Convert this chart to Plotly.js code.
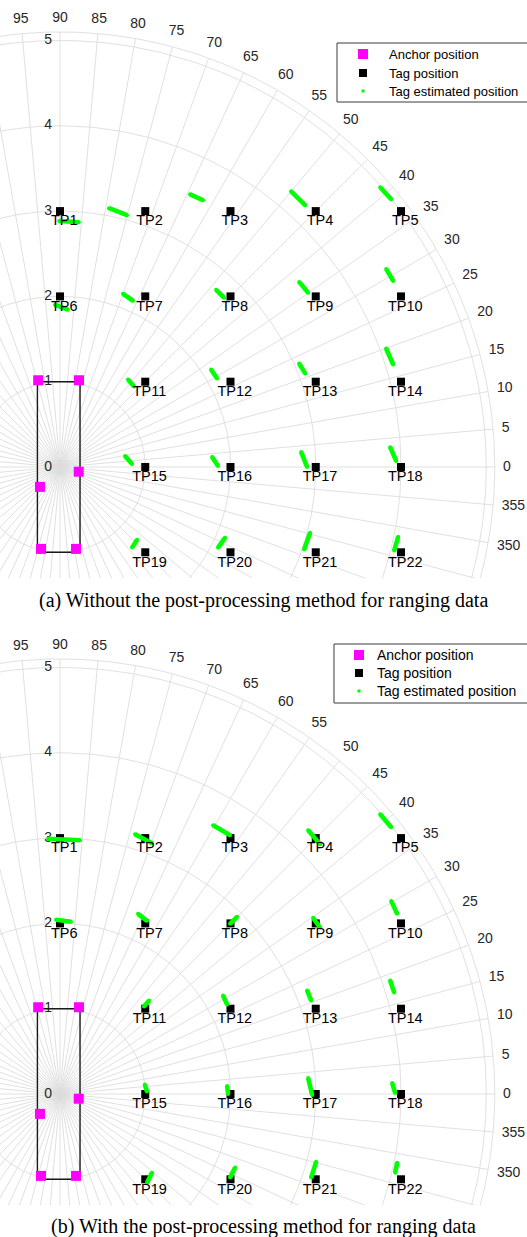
<!DOCTYPE html>
<html>
<head>
<meta charset="utf-8">
<script src="https://cdn.plot.ly/plotly-3.0.1.min.js"></script>
<style>html,body{margin:0;padding:0;background:#fff;}#chart{width:527px;height:1237px;}</style>
</head>
<body>
<div id="chart"></div>
<script>
// ---------- data ----------
const ANGLE_TICKS = [0,5,10,15,20,25,30,35,40,45,50,55,60,65,70,75,80,85,90,95,100,105,110,115,120,125,130,135,140,145,150,155,160,165,170,175,180,185,190,195,200,205,210,215,220,225,230,235,240,245,250,255,260,265,270,275,280,285,290,295,300,305,310,315,320,325,330,335,340,345,350,355];
const ANGLE_LABELS = [345,350,355,0,5,10,15,20,25,30,35,40,45,50,55,60,65,70,75,80,85,90,95];
const RADIAL_TICKS = [0,1,2,3,4,5];
const R_MAX = 5.1;

const TAG_NAMES = ['TP1','TP2','TP3','TP4','TP5','TP6','TP7','TP8','TP9','TP10','TP11','TP12','TP13','TP14','TP15','TP16','TP17','TP18','TP19','TP20','TP21','TP22'];
const TAG_X = [0,1,2,3,4, 0,1,2,3,4, 1,2,3,4, 1,2,3,4, 1,2,3,4];
const TAG_Y = [3,3,3,3,3, 2,2,2,2,2, 1,1,1,1, 0,0,0,0, -1,-1,-1,-1];

const ANCHOR_X = [-0.256, 0.223, 0.22, -0.235, -0.223, 0.188];
const ANCHOR_Y = [1.017, 1.017, -0.055, -0.233, -0.96, -0.96];

const FRAME_X = [-0.265, 0.235, 0.235, -0.265, -0.265];
const FRAME_Y = [1.0, 1.0, -1.0, -1.0, 1.0];

const LEGEND_LABELS = ['Anchor position', 'Tag position', 'Tag estimated position'];

// (a) estimated position clouds: start / end of each elongated cloud
const EST_A_X0 = [-0.01, 0.575, 1.526, 2.711, 3.756, -0.059, 0.739, 1.831, 2.805, 3.826, 0.798, 1.772, 2.805, 3.826, 0.763, 1.784, 2.829, 3.873, 0.904, 1.937, 2.934, 3.967];
const EST_A_Y0 = [2.885, 3.034, 3.197, 3.232, 3.279, 1.902, 2.030, 2.077, 2.170, 2.322, 1.027, 1.144, 1.214, 1.389, 0.128, 0.117, 0.175, 0.233, -0.852, -0.828, -0.770, -0.817];
const EST_A_X1 = [0.22, 0.786, 1.678, 2.876, 3.885, 0.094, 0.857, 1.925, 2.911, 3.908, 0.869, 1.843, 2.876, 3.908, 0.845, 1.854, 2.899, 3.944, 0.845, 1.854, 2.864, 3.920];
const EST_A_Y1 = [2.870, 2.952, 3.127, 3.069, 3.139, 1.844, 1.949, 1.984, 2.042, 2.182, 0.945, 1.038, 1.097, 1.202, 0.035, 0.012, 0.0, 0.070, -0.945, -0.945, -0.968, -0.980];

// (b) estimated position clouds
const EST_B_X0 = [-0.141, 0.880, 1.796, 2.911, 3.756, -0.047, 0.915, 2.077, 2.969, 3.885, 1.045, 1.913, 2.899, 3.873, 0.995, 1.960, 2.911, 3.897, 1.080, 2.054, 3.005, 3.955];
const EST_B_Y0 = [2.993, 3.045, 3.151, 3.092, 3.279, 2.042, 2.112, 2.077, 2.065, 2.264, 1.095, 1.155, 1.214, 1.330, 0.110, 0.093, 0.187, 0.128, -0.922, -0.863, -0.793, -0.805];
const EST_B_X1 = [0.235, 1.080, 1.995, 3.052, 3.885, 0.129, 1.021, 1.995, 3.052, 3.955, 0.985, 1.960, 2.946, 3.920, 1.020, 1.972, 2.958, 3.932, 1.021, 1.995, 2.946, 3.932];
const EST_B_Y1 = [2.975, 2.940, 3.034, 2.929, 3.127, 2.019, 2.030, 1.995, 1.949, 2.112, 1.025, 1.050, 1.097, 1.190, 0.030, 0.0, -0.012, 0.012, -1.039, -0.980, -0.980, -0.922];

// ---------- styling ----------
const SANS = 'Liberation Sans, Arial, Helvetica, sans-serif';
const SERIF = 'Liberation Serif, Times New Roman, serif';
const GRID = '#dcdcdc';
const LABEL = '#262626';
const SX = 85.25, SY = 85.3;       // px per data unit
const CX = 60, CY = 467;           // pixel position of the pole inside a panel
const px2x = p => (p - CX) / SX;
const px2y = p => (CY - p) / SY;

function gridTraces(xa, ya) {
  const traces = [];
  const cx = [], cy = [];
  const rings = RADIAL_TICKS.filter(r => r > 0).concat([R_MAX]);
  rings.forEach(r => {
    for (let a = 0; a <= 360; a += 1) {
      cx.push(r * Math.cos(a * Math.PI / 180));
      cy.push(r * Math.sin(a * Math.PI / 180));
    }
    cx.push(null); cy.push(null);
  });
  traces.push({x: cx, y: cy, xaxis: xa, yaxis: ya, mode: 'lines', line: {color: GRID, width: 0.9}, hoverinfo: 'skip', showlegend: false});
  const sx = [], sy = [];
  ANGLE_TICKS.forEach(t => {
    const a = t * Math.PI / 180;
    sx.push(0, R_MAX * Math.cos(a), null);
    sy.push(0, R_MAX * Math.sin(a), null);
  });
  traces.push({x: sx, y: sy, xaxis: xa, yaxis: ya, mode: 'lines', line: {color: GRID, width: 0.9}, hoverinfo: 'skip', showlegend: false});
  const lx = [], ly = [], lt = [];
  ANGLE_LABELS.forEach(t => {
    const a = t * Math.PI / 180, c = Math.cos(a), s = Math.sin(a);
    const txt = String(t);
    const rpx = R_MAX * 85.3 + 8 + txt.length * 3.9 * Math.abs(c) + 5.5 * Math.abs(s);
    lx.push(rpx * c / SX); ly.push(rpx * s / SY); lt.push(txt);
  });
  traces.push({x: lx, y: ly, text: lt, xaxis: xa, yaxis: ya, mode: 'text', textposition: 'middle center',
    textfont: {family: SANS, size: 14, color: LABEL}, hoverinfo: 'skip', showlegend: false, cliponaxis: true});
  traces.push({x: RADIAL_TICKS.map(() => -0.14), y: RADIAL_TICKS, text: RADIAL_TICKS.map(String), xaxis: xa, yaxis: ya,
    mode: 'text', textposition: 'middle center', textfont: {family: SANS, size: 14, color: LABEL}, hoverinfo: 'skip', showlegend: false});
  return traces;
}

function dataTraces(xa, ya, ex0, ey0, ex1, ey1) {
  const traces = [];
  traces.push({x: FRAME_X, y: FRAME_Y, xaxis: xa, yaxis: ya, mode: 'lines', line: {color: '#1a1a1a', width: 1.4}, hoverinfo: 'skip', showlegend: false});
  traces.push({x: ANCHOR_X, y: ANCHOR_Y, xaxis: xa, yaxis: ya, mode: 'markers', name: 'Anchor position', showlegend: false,
    marker: {symbol: 'square', size: 10, color: '#ff00ff'}});
  traces.push({x: TAG_X, y: TAG_Y, xaxis: xa, yaxis: ya, mode: 'markers', name: 'Tag position', showlegend: false,
    marker: {symbol: 'square', size: 8, color: '#000000'}});
  const cx = [], cy = [];
  for (let i = 0; i < ex0.length; i++) { cx.push(ex0[i], ex1[i], null); cy.push(ey0[i], ey1[i], null); }
  traces.push({x: cx, y: cy, xaxis: xa, yaxis: ya, mode: 'lines+markers', name: 'Tag estimated position', showlegend: false,
    line: {color: '#00ff00', width: 4.6}, marker: {size: 4, color: '#00ff00'}, hoverinfo: 'skip'});
  traces.push({x: TAG_X.map(v => v + 0.05), y: TAG_Y.map(v => v - 0.125), text: TAG_NAMES, xaxis: xa, yaxis: ya,
    mode: 'text', textposition: 'middle center', textfont: {family: SANS, size: 14.5, color: '#000'}, hoverinfo: 'skip', showlegend: false});
  return traces;
}

// legend box drawn inside each panel (pixel geometry relative to the panel)
function legendParts(xa, ya, box, symX, rowsY, textX, fontSize) {
  const shape = {type: 'rect', xref: xa, yref: ya, x0: px2x(box[0]), x1: px2x(box[2]), y0: px2y(box[1]), y1: px2y(box[3]),
    line: {color: '#3a3a3a', width: 1}, fillcolor: '#ffffff', layer: 'below'};
  const syms = [
    {x: [px2x(symX)], y: [px2y(rowsY[0])], marker: {symbol: 'square', size: 10, color: '#ff00ff'}},
    {x: [px2x(symX)], y: [px2y(rowsY[1])], marker: {symbol: 'square', size: 8, color: '#000000'}},
    {x: [px2x(symX)], y: [px2y(rowsY[2])], marker: {symbol: 'circle', size: 3.5, color: '#00ff00'}}
  ].map(t => Object.assign(t, {xaxis: xa, yaxis: ya, mode: 'markers', hoverinfo: 'skip', showlegend: false}));
  const anns = LEGEND_LABELS.map((txt, i) => ({text: txt, xref: xa, yref: ya, x: px2x(textX), y: px2y(rowsY[i]),
    xanchor: 'left', yanchor: 'middle', showarrow: false, borderpad: 0, font: {family: SANS, size: fontSize, color: '#000'}}));
  return {shape, syms, anns};
}

const LA = legendParts('x', 'y', [337, 43, 530, 102], 363, [54, 73, 91], 388, 13);
const LB = legendParts('x2', 'y2', [334, 17, 530, 76], 359, [28, 46, 64], 376, 14);

const traces = [].concat(
  gridTraces('x', 'y'), dataTraces('x', 'y', EST_A_X0, EST_A_Y0, EST_A_X1, EST_A_Y1), LA.syms,
  gridTraces('x2', 'y2'), dataTraces('x2', 'y2', EST_B_X0, EST_B_Y0, EST_B_X1, EST_B_Y1), LB.syms
);

const H = 1237, W = 527;
const axisCommon = {showgrid: false, zeroline: false, showticklabels: false, showline: false, ticks: '', fixedrange: true};
const XR = [px2x(0), px2x(W)];
const YR = [px2y(578), px2y(0)];

const layout = {
  width: W, height: H,
  margin: {l: 0, r: 0, t: 0, b: 0},
  paper_bgcolor: '#fff', plot_bgcolor: '#fff',
  showlegend: false,
  xaxis: Object.assign({}, axisCommon, {domain: [0, 1], range: XR, anchor: 'y'}),
  yaxis: Object.assign({}, axisCommon, {domain: [1 - 578 / H, 1], range: YR, anchor: 'x'}),
  xaxis2: Object.assign({}, axisCommon, {domain: [0, 1], range: XR, anchor: 'y2'}),
  yaxis2: Object.assign({}, axisCommon, {domain: [1 - 1205 / H, 1 - 627 / H], range: YR, anchor: 'x2'}),
  shapes: [LA.shape, LB.shape],
  annotations: LA.anns.concat(LB.anns, [
    {text: '(a) Without the post-processing method for ranging data', xref: 'paper', yref: 'paper', x: 0.5, y: 1 - 600 / H,
      xanchor: 'center', yanchor: 'middle', showarrow: false, font: {family: SERIF, size: 20, color: '#000'}},
    {text: '(b) With the post-processing method for ranging data', xref: 'paper', yref: 'paper', x: 0.5, y: 1 - 1226 / H,
      xanchor: 'center', yanchor: 'middle', showarrow: false, font: {family: SERIF, size: 20, color: '#000'}}
  ])
};

Plotly.newPlot('chart', traces, layout, {staticPlot: true, displayModeBar: false});
</script>
</body>
</html>
